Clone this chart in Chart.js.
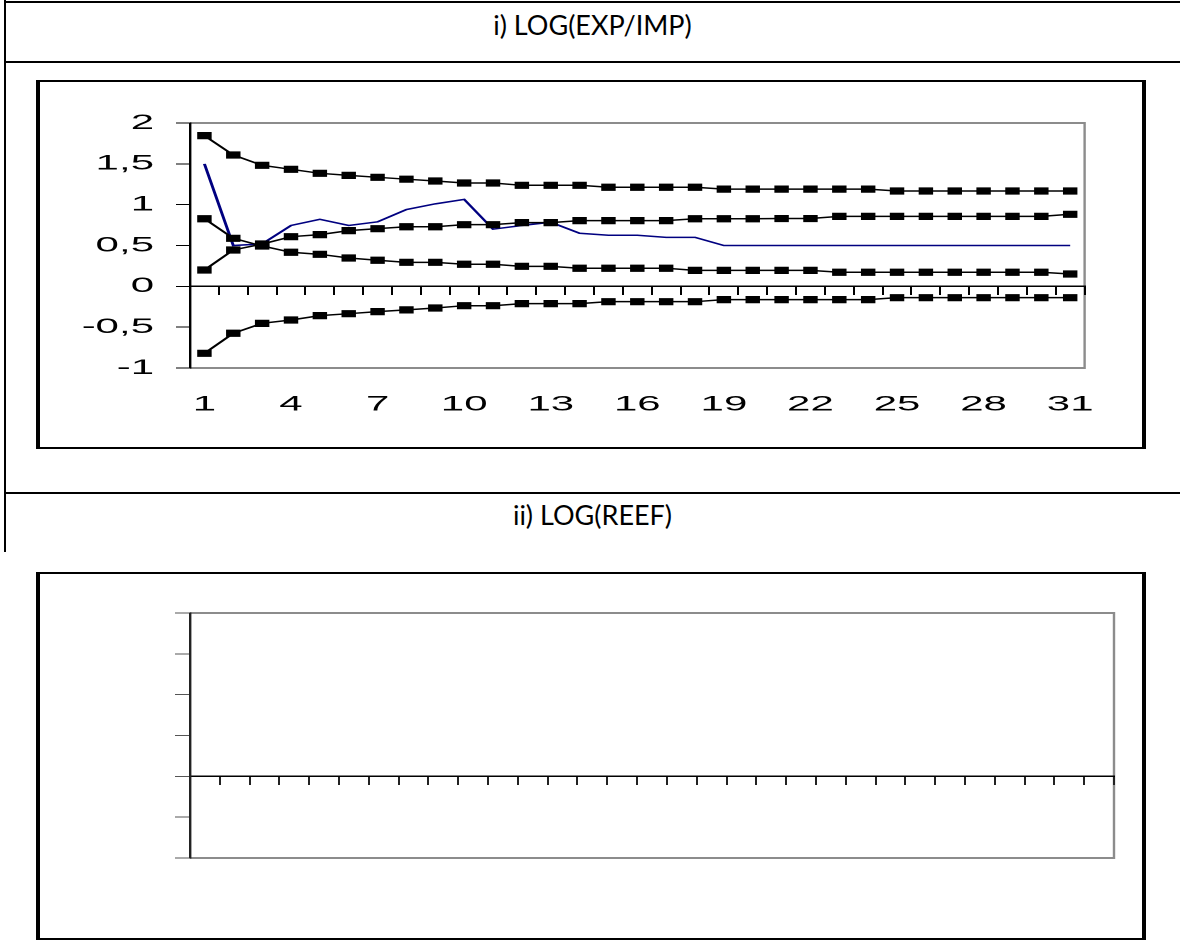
<!DOCTYPE html>
<html>
<head>
<meta charset="utf-8">
<title>LOG(EXP/IMP) / LOG(REEF)</title>
<script src="https://cdn.jsdelivr.net/npm/chart.js@4.4.1/dist/chart.umd.min.js"></script>
<style>
  html, body { margin: 0; padding: 0; background: #fff; }
  body { width: 1180px; height: 940px; position: relative; overflow: hidden; }
  .rule { position: absolute; background: #000; }
  .title {
    position: absolute; left: 5px; width: 1175px; height: 30px; line-height: 30px;
    text-align: center; font-family: Lato, "Open Sans", sans-serif; font-size: 27px; color: #000;
  }
  /* the chart boxes are drawn at half width and stretched, like the wide old Excel picture */
  .box {
    position: absolute; left: 36px; width: 555px; box-sizing: border-box;
    border: 2px solid #000; transform: scaleX(2); transform-origin: 0 0; background: #fff;
  }
  .box .inner { position: absolute; left: 0; top: 0; right: 0; bottom: 0; }
</style>
</head>
<body>

<div class="rule" style="left:4px; top:0; width:2px; height:552px;"></div>
<div class="rule" style="left:5px; top:1px; width:1175px; height:2px;"></div>
<div class="title" style="top:10px;">i) LOG(EXP/IMP)</div>
<div class="rule" style="left:5px; top:61px; width:1175px; height:2px;"></div>

<div class="box" style="top:80px; height:369px;">
  <div class="inner"><canvas id="expImpChart"></canvas></div>
</div>

<div class="rule" style="left:5px; top:492px; width:1175px; height:2px;"></div>
<div class="title" style="top:500px;">ii) LOG(REEF)</div>

<div class="box" style="top:572px; height:368px;">
  <div class="inner"><canvas id="reefChart"></canvas></div>
</div>

<script>
/* =========================
   DATA
========================= */
const periods = [];
for (let i = 1; i <= 31; i++) periods.push(String(i));

// response of LOG(EXP/IMP)
const response = [1.5, 0.5, 0.52, 0.745, 0.82, 0.745, 0.79, 0.94, 1.01, 1.065,
  0.70, 0.745, 0.785, 0.65, 0.625, 0.625, 0.60, 0.60, 0.50, 0.50,
  0.50, 0.50, 0.50, 0.50, 0.50, 0.50, 0.50, 0.50, 0.50, 0.50, 0.50];

// confidence bands (square markers)
const upperOuter = [1.845, 1.608, 1.482, 1.433, 1.384, 1.359, 1.335, 1.312, 1.29, 1.265,
  1.265, 1.237, 1.237, 1.237, 1.213, 1.213, 1.213, 1.213, 1.19, 1.19,
  1.19, 1.19, 1.19, 1.19, 1.167, 1.167, 1.167, 1.167, 1.167, 1.167, 1.167];
const bandRising = [0.2, 0.445, 0.518, 0.608, 0.633, 0.682, 0.706, 0.73, 0.73, 0.755,
  0.755, 0.78, 0.78, 0.804, 0.804, 0.804, 0.804, 0.828, 0.828, 0.828,
  0.83, 0.83, 0.857, 0.857, 0.857, 0.857, 0.857, 0.857, 0.857, 0.857, 0.882];
const bandFalling = [0.828, 0.588, 0.494, 0.417, 0.392, 0.347, 0.319, 0.294, 0.294, 0.27,
  0.27, 0.245, 0.245, 0.221, 0.221, 0.221, 0.221, 0.196, 0.196, 0.196,
  0.196, 0.196, 0.172, 0.172, 0.172, 0.172, 0.172, 0.172, 0.172, 0.172, 0.151];
const lowerOuter = [-0.82, -0.575, -0.453, -0.412, -0.359, -0.335, -0.31, -0.288, -0.265, -0.237,
  -0.237, -0.212, -0.212, -0.212, -0.188, -0.188, -0.188, -0.188, -0.163, -0.163,
  -0.163, -0.163, -0.163, -0.163, -0.139, -0.139, -0.139, -0.139, -0.139, -0.139, -0.139];

const expImpTicks = { min: -1, max: 2, step: 0.5 };
const reefTicks = { min: -2, max: 4, step: 1 };

/* =========================
   SHARED BITS
========================= */
Chart.defaults.font.family = '"Liberation Sans", Arial, sans-serif';
Chart.defaults.color = '#000';

// grey frame round the plot area (left side is the black value axis)
const plotFrame = {
  id: 'plotFrame',
  beforeDraw(chart) {
    const { ctx, chartArea: a } = chart;
    ctx.save();
    ctx.strokeStyle = '#8c8c8c';
    ctx.lineWidth = 2;
    ctx.beginPath();
    ctx.moveTo(a.left, a.top); ctx.lineTo(a.right, a.top);
    ctx.moveTo(a.left, a.bottom); ctx.lineTo(a.right, a.bottom);
    ctx.stroke();
    ctx.lineWidth = 1.2;
    ctx.beginPath();
    ctx.moveTo(a.right, a.top - 1); ctx.lineTo(a.right, a.bottom + 1);
    ctx.stroke();
    ctx.restore();
  }
};

function bandSet(values) {
  return {
    data: values,
    xAxisID: 'x',
    yAxisID: 'y',
    borderColor: '#000',
    borderWidth: 1.5,
    pointStyle: 'rect',
    pointRadius: 4.4,
    pointBorderWidth: 1,
    pointBackgroundColor: '#000',
    pointBorderColor: '#000',
    tension: 0,
    order: 0
  };
}

// axis line crossing at zero, with the small ticks between categories
function zeroAxis(color) {
  return {
    type: 'category',
    axis: 'x',
    position: { y: 0 },
    offset: true,
    ticks: { display: false },
    grid: { offset: true, drawOnChartArea: false, drawTicks: true, tickLength: 8, color: color, lineWidth: 1 },
    border: { display: true, color: '#000', width: 1.5 }
  };
}

/* =========================
   i) LOG(EXP/IMP)
========================= */
new Chart(document.getElementById('expImpChart'), {
  type: 'line',
  data: {
    labels: periods,
    datasets: [
      {
        data: response,
        xAxisID: 'x',
        yAxisID: 'y',
        borderColor: '#000080',
        borderWidth: 1.5,
        pointRadius: 0,
        tension: 0,
        order: 1
      },
      bandSet(upperOuter),
      bandSet(bandRising),
      bandSet(bandFalling),
      bandSet(lowerOuter)
    ]
  },
  options: {
    responsive: true,
    maintainAspectRatio: false,
    animation: false,
    devicePixelRatio: 2,
    layout: { padding: { top: 41, right: 14, left: 0, bottom: 0 } },
    plugins: { legend: { display: false }, tooltip: { enabled: false } },
    scales: {
      x: {
        type: 'category',
        position: 'bottom',
        offset: true,
        grid: { display: false, drawTicks: false },
        border: { display: false },
        ticks: {
          autoSkip: false,
          maxRotation: 0,
          padding: 24,
          font: { size: 21 },
          callback: (val, i) => (i % 3 === 0 ? periods[i] : '')
        },
        afterFit: (scale) => { scale.height = 79; }
      },
      x0: zeroAxis('#000'),
      y: {
        min: expImpTicks.min,
        max: expImpTicks.max,
        ticks: {
          stepSize: expImpTicks.step,
          padding: 11,
          font: { size: 21 },
          callback: (v) => String(v).replace('.', ',')
        },
        grid: { drawOnChartArea: false, drawTicks: true, tickLength: 7, color: '#000', lineWidth: 1 },
        border: { color: '#000', width: 1.2 },
        afterFit: (scale) => { scale.width = 75; }
      }
    }
  },
  plugins: [plotFrame]
});

/* =========================
   ii) LOG(REEF)
========================= */
new Chart(document.getElementById('reefChart'), {
  type: 'line',
  data: {
    labels: periods,
    datasets: []
  },
  options: {
    responsive: true,
    maintainAspectRatio: false,
    animation: false,
    devicePixelRatio: 2,
    layout: { padding: { top: 39, right: 14, left: 0, bottom: 80 } },
    plugins: { legend: { display: false }, tooltip: { enabled: false } },
    scales: {
      x0: zeroAxis('#222'),
      y: {
        min: reefTicks.min,
        max: reefTicks.max,
        ticks: { display: false, stepSize: reefTicks.step },
        grid: { drawOnChartArea: false, drawTicks: true, tickLength: 7.5, color: '#555', lineWidth: 1 },
        border: { color: '#222', width: 1.2 },
        afterFit: (scale) => { scale.width = 75; }
      }
    }
  },
  plugins: [plotFrame]
});
</script>
</body>
</html>
